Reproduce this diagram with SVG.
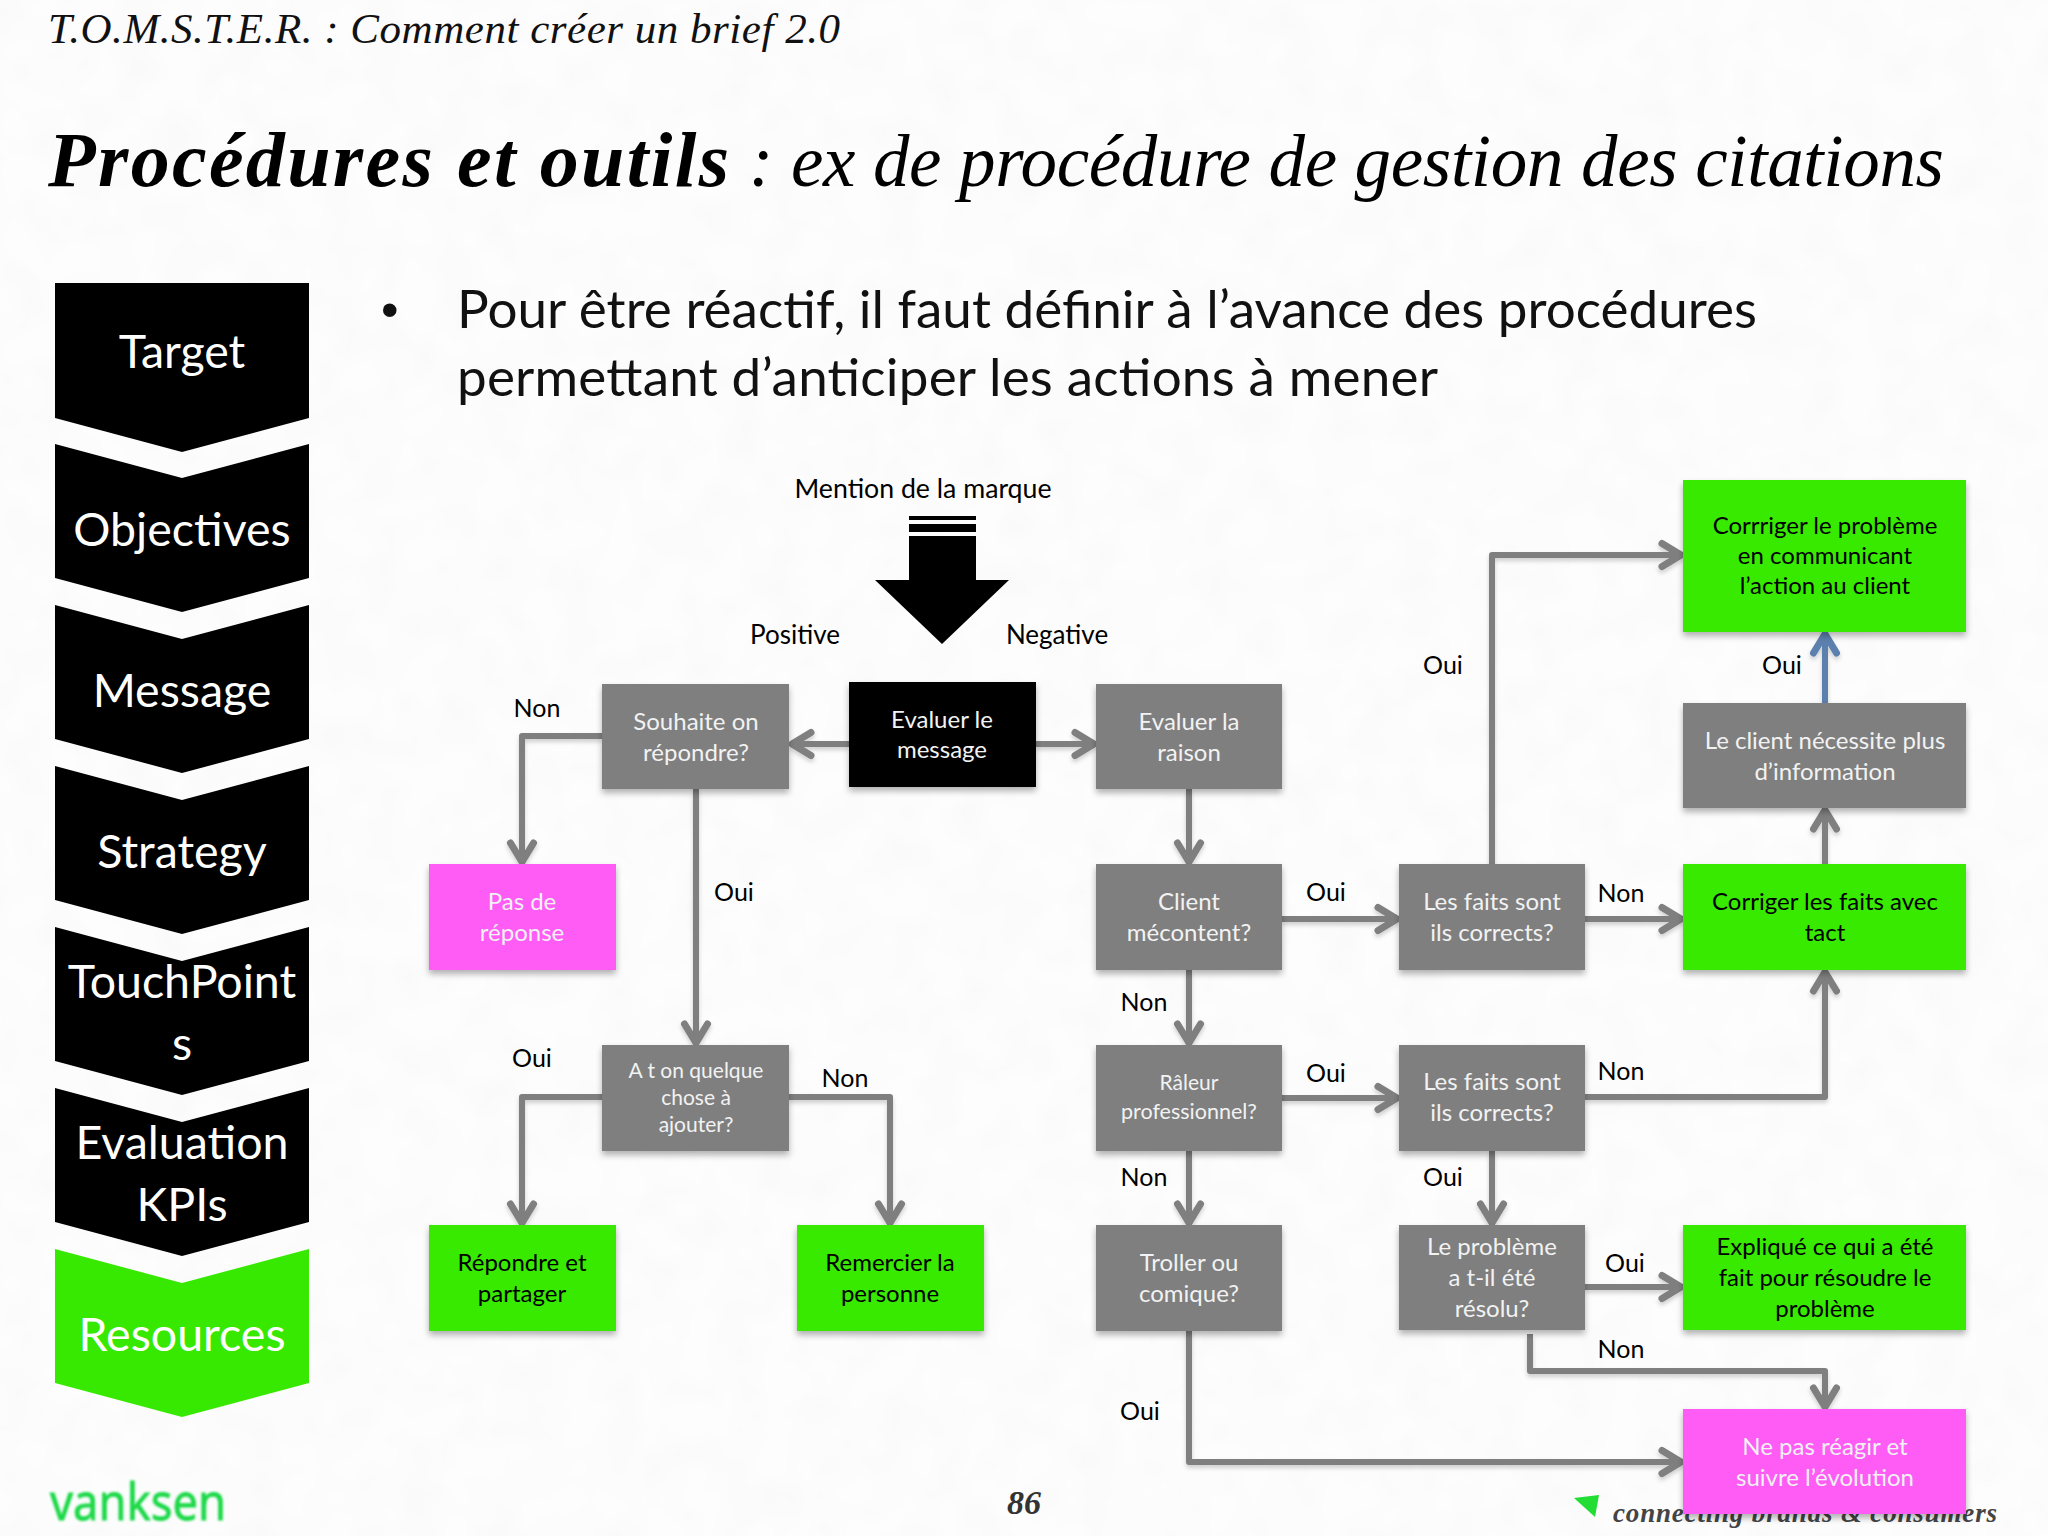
<svg xmlns="http://www.w3.org/2000/svg" width="2048" height="1536" viewBox="0 0 2048 1536">
<style>
.s{font-family:"Lato","Carlito","Liberation Sans",sans-serif}
.side{font-size:46.500px;fill:#fff;text-anchor:middle}
.t{font-size:24px;fill:#f2f2f2;text-anchor:middle}
.d{fill:#000}
.sm{font-size:21px}
.l{font-size:25px;fill:#000;text-anchor:middle}
.pn{font-size:26px}
.grey{fill:#7f7f7f;filter:url(#sh)}
.green{fill:#37e900;filter:url(#sh)}
.pink{fill:#ff5cf6;filter:url(#sh)}
.blk{fill:#000;filter:url(#sh)}
.c{fill:none;stroke:#7f7f7f;stroke-width:6;stroke-linejoin:round;marker-end:url(#a)}
</style>
<defs>
<filter id="sh" x="-10%" y="-10%" width="120%" height="125%"><feDropShadow dx="0" dy="4" stdDeviation="3" flood-color="#000" flood-opacity="0.3"/></filter>
<filter id="cs" filterUnits="userSpaceOnUse" x="0" y="0" width="2048" height="1536"><feDropShadow dx="0" dy="3" stdDeviation="2" flood-color="#000" flood-opacity="0.18"/></filter>
<filter id="bl" x="-10%" y="-20%" width="120%" height="140%"><feGaussianBlur stdDeviation="0.900"/></filter>
<filter id="tx" filterUnits="userSpaceOnUse" x="0" y="0" width="2048" height="1536"><feTurbulence type="fractalNoise" baseFrequency="0.025" numOctaves="2" seed="4"/><feColorMatrix type="matrix" values="0 0 0 0 0.6  0 0 0 0 0.6  0 0 0 0 0.6  0.12 0 0 0 -0.04"/></filter>
<marker id="a" markerUnits="userSpaceOnUse" viewBox="-26 -16 30 32" refX="0" refY="0" markerWidth="30" markerHeight="32" orient="auto"><path d="M-21,-11.500 L-2,0 L-21,11.500" fill="none" stroke="#7f7f7f" stroke-width="7" stroke-linecap="round" stroke-linejoin="round"/></marker>
<marker id="b" markerUnits="userSpaceOnUse" viewBox="-26 -16 30 32" refX="0" refY="0" markerWidth="30" markerHeight="32" orient="auto"><path d="M-21,-11.500 L-2,0 L-21,11.500" fill="none" stroke="#5b80ad" stroke-width="7" stroke-linecap="round" stroke-linejoin="round"/></marker>
</defs>
<rect width="2048" height="1536" fill="#fdfdfd"/>
<rect width="2048" height="1536" fill="#fff" filter="url(#tx)"/>

<g id="header" font-family="Liberation Serif, serif" font-style="italic">
<text x="48" y="43" font-size="43" fill="#111" textLength="792">T.O.M.S.T.E.R. : Comment créer un brief 2.0</text>
<text x="48" y="186" font-size="78" font-weight="bold" fill="#000" textLength="681">Procédures et outils</text>
<text x="749" y="186" font-size="73" fill="#000" textLength="1195">: ex de procédure de gestion des citations</text>
</g>

<g id="bullets" class="s" font-size="53" fill="#111">
<text x="381" y="327" font-family="Liberation Sans, sans-serif" font-size="50">•</text>
<text x="457" y="328" textLength="1300">Pour être réactif, il faut définir à l’avance des procédures</text>
<text x="457" y="396" textLength="981">permettant d’anticiper les actions à mener</text>
</g>

<g id="sidebar" class="s">
<g id="target"><path class="d" d="M55,283H309V418L182,452L55,418Z"/><text class="side" x="182" y="368">Target</text></g>
<g id="objectives"><path class="d" d="M55,444L182,478L309,444V578L182,612L55,578Z"/><text class="side" x="182" y="546">Objectives</text></g>
<g id="message"><path class="d" d="M55,605L182,639L309,605V739L182,773L55,739Z"/><text class="side" x="182" y="707">Message</text></g>
<g id="strategy"><path class="d" d="M55,766L182,800L309,766V900L182,934L55,900Z"/><text class="side" x="182" y="868">Strategy</text></g>
<g id="touchpoints"><path class="d" d="M55,927L182,961L309,927V1061L182,1095L55,1061Z"/><text class="side" x="182" y="998">TouchPoint</text><text class="side" x="182" y="1060">s</text></g>
<g id="evaluation"><path class="d" d="M55,1088L182,1122L309,1088V1222L182,1256L55,1222Z"/><text class="side" x="182" y="1159">Evaluation</text><text class="side" x="182" y="1221">KPIs</text></g>
<g id="resources"><path fill="#37e900" d="M55,1249L182,1283L309,1249V1383L182,1417L55,1383Z"/><text class="side" x="182" y="1351">Resources</text></g>
</g>

<g id="footer">
<text x="50" y="1520" font-family="Noto Sans, sans-serif" font-size="51" fill="#1fd94a" stroke="#1fd94a" stroke-width="0.800" filter="url(#bl)" textLength="176" lengthAdjust="spacingAndGlyphs">vanksen</text>
<text x="1024" y="1514" font-family="Liberation Serif, serif" font-style="italic" font-weight="bold" font-size="34" fill="#333" text-anchor="middle">86</text>
<polygon points="1574,1498 1599,1495 1595,1517" fill="#22dd33"/>
<text x="1613" y="1522" font-family="Liberation Serif, serif" font-style="italic" font-weight="bold" font-size="27" fill="#444" textLength="384">connecting brands &amp; consumers</text>
</g>

<g id="connectors" filter="url(#cs)">
<path class="c" d="M849,744H790"/>
<path class="c" d="M1036,744H1096"/>
<path class="c" d="M1189,789V864"/>
<path class="c" d="M602,736H522V864"/>
<path class="c" d="M696,789V1045"/>
<path class="c" d="M602,1097H522V1225"/>
<path class="c" d="M789,1097H890V1225"/>
<path class="c" d="M1282,919H1399"/>
<path class="c" d="M1189,970V1045"/>
<path class="c" d="M1282,1098H1399"/>
<path class="c" d="M1189,1151V1225"/>
<path class="c" d="M1492,864V555H1683"/>
<path class="c" d="M1585,919H1683"/>
<path class="c" d="M1825,864V808"/>
<path class="c" d="M1585,1097H1825V970"/>
<path class="c" d="M1492,1151V1225"/>
<path class="c" d="M1189,1330V1462H1683"/>
<path class="c" d="M1585,1287H1683"/>
<path class="c" d="M1530,1334V1371H1825V1409"/>
<path class="c" style="stroke:#5b80ad;marker-end:url(#b)" d="M1825,703V632"/>
</g>

<g id="source">
<path d="M909,516H976V520H909ZM909,524H976V532H909ZM909,536H976V580H1009L942,644L875,580H909Z" fill="#000"/>
<text class="s l" style="font-size:26.700px" x="923" y="498">Mention de la marque</text>
</g>

<g id="labels" class="s">
<text class="l pn" x="795" y="644">Positive</text>
<text class="l pn" x="1057" y="644">Negative</text>
<text class="l" x="537" y="717">Non</text>
<text class="l" x="734" y="901">Oui</text>
<text class="l" x="532" y="1067">Oui</text>
<text class="l" x="845" y="1087">Non</text>
<text class="l" x="1326" y="901">Oui</text>
<text class="l" x="1144" y="1011">Non</text>
<text class="l" x="1326" y="1082">Oui</text>
<text class="l" x="1144" y="1186">Non</text>
<text class="l" x="1443" y="674">Oui</text>
<text class="l" x="1782" y="674">Oui</text>
<text class="l" x="1621" y="902">Non</text>
<text class="l" x="1621" y="1080">Non</text>
<text class="l" x="1443" y="1186">Oui</text>
<text class="l" x="1625" y="1272">Oui</text>
<text class="l" x="1621" y="1358">Non</text>
<text class="l" x="1140" y="1420">Oui</text>
</g>

<g id="nodes" class="s">
<g id="n-evaluer-message"><rect class="blk" x="849" y="682" width="187" height="105"/><text class="t" x="942" y="728">Evaluer le</text><text class="t" x="942" y="758">message</text></g>
<g id="n-souhaite"><rect class="grey" x="602" y="684" width="187" height="105"/><text class="t" x="696" y="730">Souhaite on</text><text class="t" x="696" y="761">répondre?</text></g>
<g id="n-evaluer-raison"><rect class="grey" x="1096" y="684" width="186" height="105"/><text class="t" x="1189" y="730">Evaluer la</text><text class="t" x="1189" y="761">raison</text></g>
<g id="n-pas-reponse"><rect class="pink" x="429" y="864" width="187" height="106"/><text class="t" x="522" y="910">Pas de</text><text class="t" x="522" y="941">réponse</text></g>
<g id="n-client"><rect class="grey" x="1096" y="864" width="186" height="106"/><text class="t" x="1189" y="910">Client</text><text class="t" x="1189" y="941">mécontent?</text></g>
<g id="n-faits1"><rect class="grey" x="1399" y="864" width="186" height="106"/><text class="t" x="1492" y="910">Les faits sont</text><text class="t" x="1492" y="941">ils corrects?</text></g>
<g id="n-corriger-faits"><rect class="green" x="1683" y="864" width="283" height="106"/><text class="t d" x="1825" y="910">Corriger les faits avec</text><text class="t d" x="1825" y="941">tact</text></g>
<g id="n-client-info"><rect class="grey" x="1683" y="703" width="283" height="105"/><text class="t" x="1825" y="749">Le client nécessite plus</text><text class="t" x="1825" y="780">d’information</text></g>
<g id="n-corriger-pb"><rect class="green" x="1683" y="480" width="283" height="152"/><text class="t d" x="1825" y="534">Corrriger le problème</text><text class="t d" x="1825" y="564">en communicant</text><text class="t d" x="1825" y="594">l’action au client</text></g>
<g id="n-ajouter"><rect class="grey" x="602" y="1045" width="187" height="106"/><text class="t sm" x="696" y="1078">A t on quelque</text><text class="t sm" x="696" y="1105">chose à</text><text class="t sm" x="696" y="1132">ajouter?</text></g>
<g id="n-raleur"><rect class="grey" x="1096" y="1045" width="186" height="106"/><text class="t sm" x="1189" y="1090">Râleur</text><text class="t" style="font-size:21.500px" x="1189" y="1119">professionnel?</text></g>
<g id="n-faits2"><rect class="grey" x="1399" y="1045" width="186" height="106"/><text class="t" x="1492" y="1090">Les faits sont</text><text class="t" x="1492" y="1121">ils corrects?</text></g>
<g id="n-repondre"><rect class="green" x="429" y="1225" width="187" height="106"/><text class="t d" x="522" y="1271">Répondre et</text><text class="t d" x="522" y="1302">partager</text></g>
<g id="n-remercier"><rect class="green" x="797" y="1225" width="187" height="106"/><text class="t d" x="890" y="1271">Remercier la</text><text class="t d" x="890" y="1302">personne</text></g>
<g id="n-troller"><rect class="grey" x="1096" y="1225" width="186" height="106"/><text class="t" x="1189" y="1271">Troller ou</text><text class="t" x="1189" y="1302">comique?</text></g>
<g id="n-probleme"><rect class="grey" x="1399" y="1225" width="186" height="105"/><text class="t" x="1492" y="1255">Le problème</text><text class="t" x="1492" y="1286">a t-il été</text><text class="t" x="1492" y="1317">résolu?</text></g>
<g id="n-explique"><rect class="green" x="1683" y="1225" width="283" height="105"/><text class="t d" x="1825" y="1255">Expliqué ce qui a été</text><text class="t d" x="1825" y="1286">fait pour résoudre le</text><text class="t d" x="1825" y="1317">problème</text></g>
<g id="n-ne-pas"><rect class="pink" x="1683" y="1409" width="283" height="105"/><text class="t" x="1825" y="1455">Ne pas réagir et</text><text class="t" x="1825" y="1486">suivre l’évolution</text></g>
</g>
</svg>
